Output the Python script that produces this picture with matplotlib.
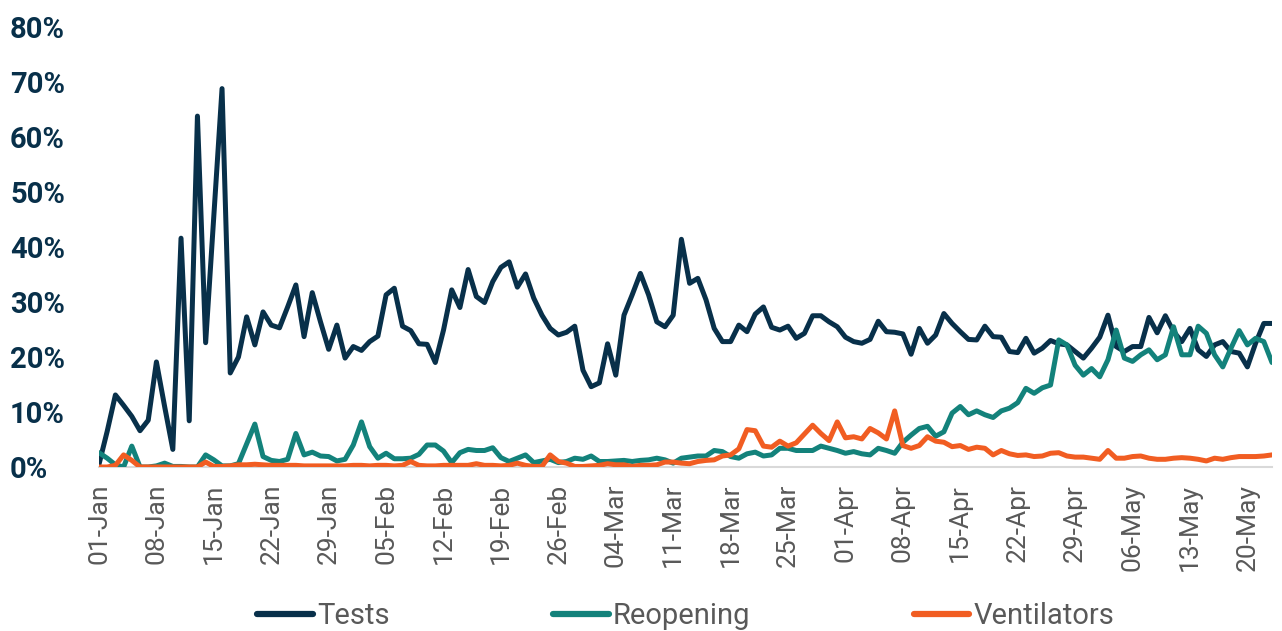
import matplotlib
matplotlib.use('Agg')
import matplotlib.pyplot as plt
import matplotlib.ticker as mticker
from matplotlib import font_manager
import pandas as pd

# daily share of searches (%), 01-Jan to 23-May 2020
dates = pd.date_range('2020-01-01', periods=144, freq='D')

tests = [
    0.5, 6.5, 13.1, 11.2, 9.2, 6.6, 8.5, 19.1, 11.0, 3.2,
    41.6, 8.4, 63.8, 22.6, 45.7, 68.8, 17.1, 20.0, 27.3, 22.2,
    28.2, 25.8, 25.3, 29.1, 33.1, 23.7, 31.7, 26.4, 21.4, 25.8,
    19.8, 21.9, 21.2, 22.8, 23.8, 31.3, 32.5, 25.6, 24.8, 22.4,
    22.3, 19.0, 24.9, 32.2, 29.0, 35.9, 31.0, 29.9, 33.7, 36.3,
    37.3, 32.7, 35.1, 30.7, 27.6, 25.2, 24.0, 24.5, 25.6, 17.6,
    14.6, 15.3, 22.4, 16.7, 27.6, 31.3, 35.2, 31.3, 26.4, 25.5,
    27.6, 41.4, 33.4, 34.3, 30.4, 25.2, 22.8, 22.8, 25.8, 24.6,
    27.8, 29.1, 25.4, 24.9, 25.6, 23.4, 24.3, 27.5, 27.5, 26.4,
    25.5, 23.6, 22.8, 22.5, 23.2, 26.5, 24.6, 24.5, 24.2, 20.5,
    25.2, 22.5, 24.0, 27.9, 26.1, 24.6, 23.2, 23.1, 25.6, 23.7,
    23.6, 21.0, 20.8, 23.4, 20.7, 21.6, 23.0, 22.4, 22.2, 21.0,
    19.8, 21.6, 23.6, 27.6, 21.9, 21.0, 21.9, 21.9, 27.2, 24.4,
    27.5, 24.6, 22.8, 25.2, 21.3, 20.1, 22.2, 22.8, 21.0, 20.7,
    18.2, 22.5, 26.1, 26.1,
]

reopening = [
    2.6, 1.6, 0.4, 0.0, 3.8, 0.0, 0.0, 0.2, 0.7, 0.1,
    0.1, 0.0, 0.0, 2.2, 1.3, 0.2, 0.2, 0.6, 4.2, 7.8,
    1.9, 1.2, 1.0, 1.4, 6.1, 2.2, 2.7, 2.0, 1.9, 1.1,
    1.4, 4.0, 8.2, 3.7, 1.6, 2.5, 1.5, 1.5, 1.6, 2.3,
    4.0, 4.0, 2.9, 0.8, 2.6, 3.2, 3.0, 3.0, 3.5, 1.7,
    1.0, 1.6, 2.2, 0.8, 1.1, 1.4, 0.8, 1.0, 1.6, 1.4,
    2.0, 1.0, 1.0, 1.1, 1.2, 1.0, 1.2, 1.3, 1.6, 1.3,
    0.7, 1.6, 1.8, 2.0, 2.0, 3.0, 2.8, 1.9, 1.6, 2.4,
    2.7, 2.0, 2.2, 3.4, 3.4, 3.0, 3.0, 3.0, 3.8, 3.4,
    3.0, 2.5, 2.8, 2.4, 2.2, 3.4, 3.0, 2.5, 4.5, 5.8,
    7.0, 7.4, 5.6, 6.4, 9.8, 11.0, 9.5, 10.2, 9.5, 9.0,
    10.2, 10.7, 11.7, 14.3, 13.4, 14.4, 14.9, 23.1, 22.2, 18.5,
    16.7, 17.9, 16.4, 19.5, 24.9, 19.8, 19.2, 20.4, 21.3, 19.5,
    20.4, 25.5, 20.4, 20.4, 25.6, 24.3, 20.4, 18.2, 21.6, 24.8,
    22.2, 23.4, 22.8, 19.0,
]

ventilators = [
    0.0, 0.0, 0.3, 2.2, 1.2, 0.0, 0.0, 0.0, 0.0, 0.0,
    0.0, 0.0, 0.0, 0.9, 0.1, 0.1, 0.2, 0.4, 0.4, 0.5,
    0.4, 0.3, 0.3, 0.3, 0.3, 0.2, 0.2, 0.2, 0.2, 0.2,
    0.2, 0.3, 0.3, 0.2, 0.3, 0.3, 0.2, 0.3, 1.0, 0.3,
    0.2, 0.2, 0.3, 0.3, 0.3, 0.3, 0.6, 0.3, 0.3, 0.2,
    0.3, 0.7, 0.3, 0.1, 0.1, 2.2, 1.0, 0.7, 0.1, 0.1,
    0.2, 0.3, 0.6, 0.4, 0.4, 0.1, 0.3, 0.3, 0.4, 0.9,
    0.9, 0.7, 0.6, 1.0, 1.2, 1.3, 2.0, 2.2, 3.3, 6.8,
    6.6, 3.8, 3.6, 4.7, 3.8, 4.4, 6.0, 7.6, 6.1, 4.8,
    8.2, 5.3, 5.5, 5.1, 7.0, 6.2, 5.1, 10.2, 3.9, 3.4,
    3.9, 5.5, 4.7, 4.5, 3.7, 3.9, 3.2, 3.6, 3.4, 2.2,
    3.0, 2.4, 2.1, 2.2, 1.9, 2.0, 2.5, 2.6, 2.0, 1.8,
    1.8, 1.6, 1.4, 3.0, 1.6, 1.6, 1.9, 2.0, 1.6, 1.4,
    1.4, 1.6, 1.7, 1.6, 1.4, 1.1, 1.6, 1.4, 1.7, 1.9,
    1.9, 1.9, 2.0, 2.2,
]

series_names = ['Tests', 'Reopening', 'Ventilators']
colors = ['#08304a', '#13827b', '#f15d22']

installed = {f.name for f in font_manager.fontManager.ttflist}
narrow = 'Liberation Sans Narrow' if 'Liberation Sans Narrow' in installed else 'Roboto'
plt.rcParams['font.family'] = [narrow, 'DejaVu Sans']

fig = plt.figure(figsize=(12.82, 6.31), dpi=100)
ax = fig.add_axes([99 / 1282, 1 - 467 / 631, (1272 - 99) / 1282, (467 - 27) / 631])

x = list(range(len(dates)))
for vals, name, c in zip([tests, reopening, ventilators], series_names, colors):
    ax.plot(x, [v / 100 for v in vals], color=c, lw=3.6, label=name,
            solid_joinstyle='round', solid_capstyle='round')

ax.set_xlim(0, len(dates) - 1)
ax.set_ylim(0, 0.8)
ax.yaxis.set_major_locator(mticker.MultipleLocator(0.1))
ax.yaxis.set_major_formatter(mticker.PercentFormatter(1.0, decimals=0))
ax.set_xticks(x[::7])
ax.set_xticklabels([d.strftime('%d-%b') for d in dates[::7]], rotation=90)

for s in ['top', 'right', 'left']:
    ax.spines[s].set_visible(False)
ax.spines['bottom'].set_color('#d9d9d9')
ax.spines['bottom'].set_linewidth(1.5)
ax.spines['bottom'].set_zorder(0)

ax.tick_params(axis='both', length=0)
ax.tick_params(axis='x', pad=12, labelsize=19, labelcolor='#595959')
ax.tick_params(axis='y', pad=64, labelsize=21, labelcolor='#08304a')
for lab in ax.get_yticklabels():
    lab.set_fontweight('bold')
    lab.set_horizontalalignment('left')
    lab.set_family('Roboto')

leg = fig.legend(loc='lower center', bbox_to_anchor=(0.535, -0.04), ncol=3,
                 frameon=False, fontsize=21, handlelength=1.9, handletextpad=0.15,
                 columnspacing=5.6)
for t in leg.get_texts():
    t.set_color('#595959')
for h in leg.get_lines():
    h.set_linewidth(4.5)

fig.savefig('out.png', dpi=100)
